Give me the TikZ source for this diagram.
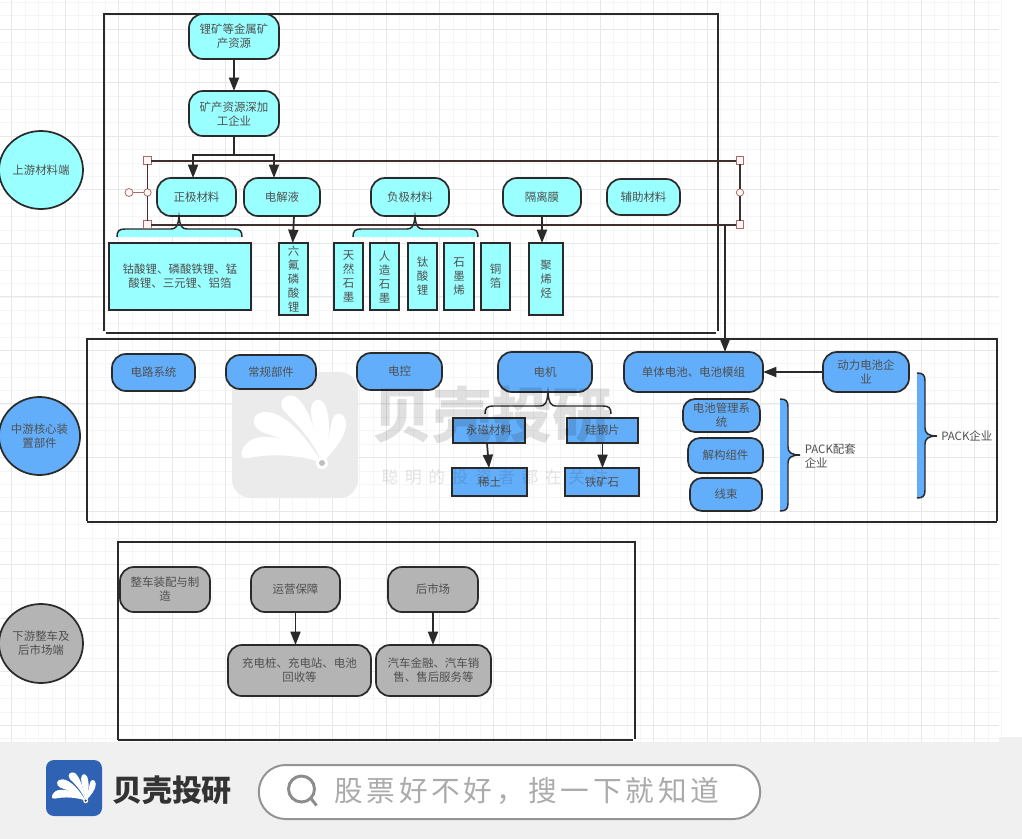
\documentclass[tikz,border=0pt]{standalone}
\usepackage{fontspec}
\setmainfont{Noto Sans CJK SC}
\newfontfamily\spacedcjk[LetterSpace=13]{Noto Sans CJK SC}
\newfontfamily\spacedmark[LetterSpace=40]{Noto Sans CJK SC}
\usetikzlibrary{arrows.meta,shapes.geometric}
\definecolor{cy}{HTML}{99FFFF}
\definecolor{bl}{HTML}{62AEFA}
\definecolor{gy}{HTML}{B4B4B4}
\definecolor{ink}{HTML}{2A2A2A}
\definecolor{txt}{HTML}{505050}
\definecolor{sel}{HTML}{3F2F2F}
\definecolor{hdl}{HTML}{A86A6A}
\definecolor{brandblue}{HTML}{2F62B3}
\tikzset{
  body/.style={draw=ink,line width=1.3pt,inner sep=0pt,outer sep=0pt,text=txt,align=center,
    font=\fontsize{8.6}{10.5}\selectfont},
  pill/.style={body,rounded corners=10.5pt},
  smallpill/.style={body,rounded corners=9pt},
  sq/.style={body},
  oval/.style={body,ellipse},
  cyan/.style={fill=cy},
  blue/.style={fill=bl},
  grey/.style={fill=gy},
  frameline/.style={draw=ink,line width=1.5pt},
  conn/.style={draw=ink,line width=1.3pt,-{Triangle[length=10pt,width=7.5pt]}},
  plainconn/.style={draw=ink,line width=1.3pt},
  bracestroke/.style={draw=ink,line width=1.1pt},
  selline/.style={draw=sel,line width=1.5pt},
  handle/.style={draw=hdl,fill=red!4,line width=.6pt,inner sep=0pt,minimum size=5.5pt,outer sep=0pt},
  handleround/.style={handle,circle},
  gridminor/.style={draw=black!4,line width=.4pt},
  gridmajor/.style={draw=black!9,line width=.6pt},
  free/.style={text=txt,inner sep=0pt,align=left,font=\fontsize{8.6}{10.5}\selectfont},
}
% box given by its corners in reference pixels
\newcommand{\bx}[7][]{\node[#2,#1,minimum width={(#5-#3)*0.75pt},minimum height={(#6-#4)*0.75pt}] (#7) at ({(#3+#5)/2},{(#4+#6)/2})}
\newcommand{\bracedown}[7]{%
  \path[fill=#7] (#1,#6) .. controls (#1,#5+2) and (#1+2,#5) .. (#1+8,#5) -- (#3-8,#5)
     .. controls (#3-3,#5) and (#3-1,#5-3) .. (#3,#4) .. controls (#3+1,#5-3) and (#3+3,#5) .. (#3+8,#5)
     -- (#2-8,#5) .. controls (#2-2,#5) and (#2,#5+2) .. (#2,#6) -- cycle;
  \draw[bracestroke] (#1,#6) .. controls (#1,#5+2) and (#1+2,#5) .. (#1+8,#5) -- (#3-8,#5)
     .. controls (#3-3,#5) and (#3-1,#5-3) .. (#3,#4) .. controls (#3+1,#5-3) and (#3+3,#5) .. (#3+8,#5)
     -- (#2-8,#5) .. controls (#2-2,#5) and (#2,#5+2) .. (#2,#6);}
\newcommand{\braceright}[6]{%
  \path[fill=bl] (#4,#1) .. controls (#5-2,#1) and (#5,#1+2) .. (#5,#1+8) -- (#5,#3-8)
     .. controls (#5,#3-3) and (#5+3,#3) .. (#6,#3) .. controls (#5+3,#3) and (#5,#3+3) .. (#5,#3+8)
     -- (#5,#2-8) .. controls (#5,#2-2) and (#5-2,#2) .. (#4,#2) -- cycle;
  \draw[bracestroke] (#4,#1) .. controls (#5-2,#1) and (#5,#1+2) .. (#5,#1+8) -- (#5,#3-8)
     .. controls (#5,#3-3) and (#5+3,#3) .. (#6,#3) .. controls (#5+3,#3) and (#5,#3+3) .. (#5,#3+8)
     -- (#5,#2-8) .. controls (#5,#2-2) and (#5-2,#2) .. (#4,#2);}
\newcommand{\fan}[5]{%
  \begin{scope}[shift={(#1,#2)},scale=#3]
    \fill[#4] (0,0) .. controls (-20,-8) and (-50,-10) .. (-74,-5) .. controls (-85,-2) and (-82,-20) .. (-66,-25) .. controls (-45,-30) and (-20,-18) .. (0,0);
    \fill[#4] (0,0) .. controls (-18,-16) and (-40,-24) .. (-60,-31) .. controls (-73,-37) and (-70,-52) .. (-55,-51) .. controls (-35,-49) and (-15,-25) .. (0,0);
    \fill[#4] (0,0) .. controls (-10,-25) and (-28,-42) .. (-38,-52) .. controls (-46,-62) and (-35,-71) .. (-26,-66) .. controls (-14,-57) and (-5,-30) .. (0,0);
    \fill[#4] (0,0) .. controls (-3,-20) and (-11,-40) .. (-11,-52) .. controls (-11,-64) and (-2,-67) .. (3,-58) .. controls (9,-45) and (8,-20) .. (0,0);
    \fill[#4] (0,0) .. controls (4,-15) and (8,-32) .. (10,-42) .. controls (12,-52) and (23,-52) .. (24,-40) .. controls (25,-28) and (12,-12) .. (0,0);
    \fill[#4] (0,0) circle (6);
    \fill[#5] (0,0) circle (3);
  \end{scope}}
\begin{document}
\begin{tikzpicture}[x=0.75pt,y=-0.75pt]
\useasboundingbox (0,0) rectangle (1022,839);
\fill[white] (0,0) rectangle (1022,839);
% grid
\foreach \i in {0,...,75}{\pgfmathsetmacro{\gx}{-1.7+13.375*\i}\draw[gridminor] (\gx,0) -- (\gx,742);}
\foreach \i in {0,...,56}{\pgfmathsetmacro{\gy}{2.2+13.39*\i}\draw[gridminor] (0,\gy) -- (999,\gy);}
\foreach \i in {0,...,18}{\pgfmathsetmacro{\gx}{11.7+53.5*\i}\draw[gridmajor] (\gx,0) -- (\gx,742);}
\foreach \i in {0,...,13}{\pgfmathsetmacro{\gy}{29+53.55*\i}\draw[gridmajor] (0,\gy) -- (999,\gy);}
% bottom band
\fill[black!6] (0,742) -- (999,742) -- (999,737) -- (1022,737) -- (1022,839) -- (0,839) -- cycle;
% watermark emblem
\fill[black!8,rounded corners=14pt] (232,372) rectangle (358,498);
\fan{322}{463}{1}{white}{black!25}
% frames
\draw[frameline] (104,331) -- (104,14) -- (718,14) -- (718,331);
\draw[frameline] (106,333) -- (716,333);
\draw[frameline] (87,521) -- (87,339) -- (997,339) -- (997,521);
\draw[frameline] (87,522) -- (997,522);
\draw[frameline] (118,740) -- (118,542) -- (635,542) -- (635,739);
\draw[frameline] (118,740) -- (633,740);
% side ellipses
\bx{oval,cyan}{-1}{131}{83}{209}{up} {上游材料端};
\bx{oval,blue}{-1}{397}{80}{475}{mid} {中游核心装\\置部件};
\bx{oval,grey}{-1}{604}{83}{683}{down} {下游整车及\\后市场端};
% upstream
\bx{pill,cyan}{189}{14}{279}{59}{ore} {锂矿等金属矿\\产资源};
\bx{pill,cyan}{189}{91}{279}{136}{proc} {矿产资源深加\\工企业};
\bx{pill,cyan}{157}{178}{236}{216}{cath} {正极材料};
\bx{pill,cyan}{244}{178}{320}{216}{elec} {电解液};
\bx{pill,cyan}{371}{178}{449}{216}{anod} {负极材料};
\bx{pill,cyan}{503}{178}{581}{216}{sepa} {隔离膜};
\bx{pill,cyan}{607}{179}{680}{215}{aux} {辅助材料};
\bx{sq,cyan}{109}{243}{251}{310}{cathm} {钴酸锂、磷酸铁锂、锰\\酸锂、三元锂、铝箔};
\bx{sq,cyan}{279}{243}{308}{315}{lipf} {六\\氟\\磷\\酸\\锂};
\bx{sq,cyan}{334}{243}{363}{310}{natg} {天\\然\\石\\墨};
\bx{sq,cyan}{370}{243}{399}{310}{artg} {人\\造\\石\\墨};
\bx{sq,cyan}{408}{243}{437}{310}{lto} {钛\\酸\\锂};
\bx{sq,cyan}{444}{243}{474}{310}{grap} {石\\墨\\烯};
\bx{sq,cyan}{481}{243}{510}{310}{cufo} {铜\\箔};
\bx{sq,cyan}{529}{243}{563}{315}{poly} {聚\\烯\\烃};
\bracedown{117}{242}{179}{217}{229}{237}{cy}
\bracedown{353}{478}{415}{217}{229}{237}{cy}
% selection outline
\node[handle] (hTL) at (147.5,160.5) {};
\node[handle] (hTR) at (740,160.5) {};
\node[handle] (hBL) at (147.5,224.5) {};
\node[handle] (hBR) at (740,224.5) {};
\node[handleround] (hML) at (147.5,192.5) {};
\node[handleround] (hMR) at (740,192.5) {};
\node[handleround,minimum size=6pt] (hRot) at (129,192.5) {};
\draw[selline] (hTL) -- (hTR);
\draw[selline] (hBL) -- (hBR);
\draw[selline,line width=.9pt] (hTL) -- (hML) -- (hBL);
\draw[selline,line width=.9pt] (hTR) -- (hMR) -- (hBR);
\draw[draw=hdl,line width=.7pt] (hRot) -- (hML);
% upstream connectors
\coordinate (split) at (234,155);
\coordinate (onsel) at (725,224.5);
\draw[conn] (ore) -- (proc);
\draw[plainconn] (proc) -- (split);
\draw[conn] (split) -| ([xshift=-2.6pt]cath.north);
\draw[conn] (split) -| ([xshift=-6pt]elec.north);
\draw[conn] ([xshift=9pt]elec.south) -- ([xshift=-.6pt]lipf.north);
\draw[conn] (sepa.south) -- (sepa.south |- poly.north);
% midstream
\bx{pill,blue}{112}{354}{195}{391}{circ} {电路系统};
\bx{pill,blue}{226}{355}{316}{389}{norm} {常规部件};
\bx{pill,blue}{357}{353}{442}{390}{ctrl} {电控};
\bx{pill,blue}{498}{352}{592}{392}{moto} {电机};
\bx{pill,blue}{624}{352}{763}{392}{cell} {单体电池、电池模组};
\bx{pill,blue}{823}{352}{909}{392}{pbat} {动力电池企\\业};
\bx{smallpill,blue}{683}{399}{760}{432}{bms} {电池管理系\\统};
\bx{smallpill,blue}{688}{438}{763}{473}{struc} {解构组件};
\bx{smallpill,blue}{690}{478}{762}{511}{wire} {线束};
\bx{sq,blue}{453}{418}{525}{443}{mag} {永磁材料};
\bx{sq,blue}{567}{418}{638}{443}{sist} {硅钢片};
\bx{sq,blue}{452}{468}{527}{496}{rare} {稀土};
\bx{sq,blue}{565}{468}{639}{496}{iron} {铁矿石};
\bracedown{485}{611}{548}{393}{406}{414}{none}
\braceright{399}{511}{455}{780}{788}{800}
\braceright{373}{498}{436}{917}{925}{937}
\node[free,anchor=west] (packa) at (804.5,455.5) {PACK配套\\企业};
\node[free,anchor=west] (packb) at (941,436) {PACK企业};
\draw[conn] (onsel) -- (onsel |- cell.north);
\draw[conn] (pbat) -- (cell);
\draw[conn] ([xshift=-1.5pt]mag.south) -- ([xshift=-.4pt]rare.south |- rare.north);
\draw[conn] (sist.south) -- (sist.south |- iron.north);
% downstream
\bx{pill,grey}{120}{567}{210}{612}{asm} {整车装配与制\\造};
\bx{pill,grey}{251}{567}{340}{612}{oper} {运营保障};
\bx{pill,grey}{388}{567}{478}{612}{after} {后市场};
\bx{pill,grey}{228}{645}{371}{696}{chrg} {充电桩、充电站、电池\\回收等};
\bx{pill,grey}{376}{645}{491}{696}{fin} {汽车金融、汽车销\\售、售后服务等};
\draw[conn] (oper.south) -- (oper.south |- chrg.north);
\draw[conn] (after.south) -- (after.south |- fin.north);
% watermark texts, printed over the diagram
\node[inner sep=0pt,text=black,text opacity=.12,font=\fontsize{45}{45}\selectfont\bfseries] (wmtitle) at (492,415) {贝壳投研};
\draw[black!9,line width=.6pt] (375,457) -- (452,457);
\node[inner sep=0pt,text=black,text opacity=.11,font=\fontsize{12.5}{14}\selectfont\spacedmark] (wmsub) at (495,477) {聪明的投资者都在关注};
% footer brand
\fill[fill=brandblue,rounded corners=6pt] (46,760) rectangle (102,816);
\fan{85.7}{800.7}{0.42}{white}{black!70}
\node[inner sep=0pt,text=black!80,font=\fontsize{22.5}{24}\selectfont\bfseries] (brand) at (172,790) {贝壳投研};
\node[draw=black!42,fill=white,line width=1.5pt,rounded corners=20pt,minimum width=376pt,minimum height=40.5pt,inner sep=0pt] (searchbar) at (509.5,792) {};
\node[inner sep=0pt,anchor=west,text=black!33,font=\fontsize{21.5}{24}\selectfont\spacedcjk] (searchtext) at (334,791) {股票好不好，搜一下就知道};
\draw[black!45,line width=2.2pt] (301.5,789) circle (13);
\draw[black!45,line width=2.2pt] (311,798.5) -- (316.5,805.5);
\end{tikzpicture}
\end{document}
